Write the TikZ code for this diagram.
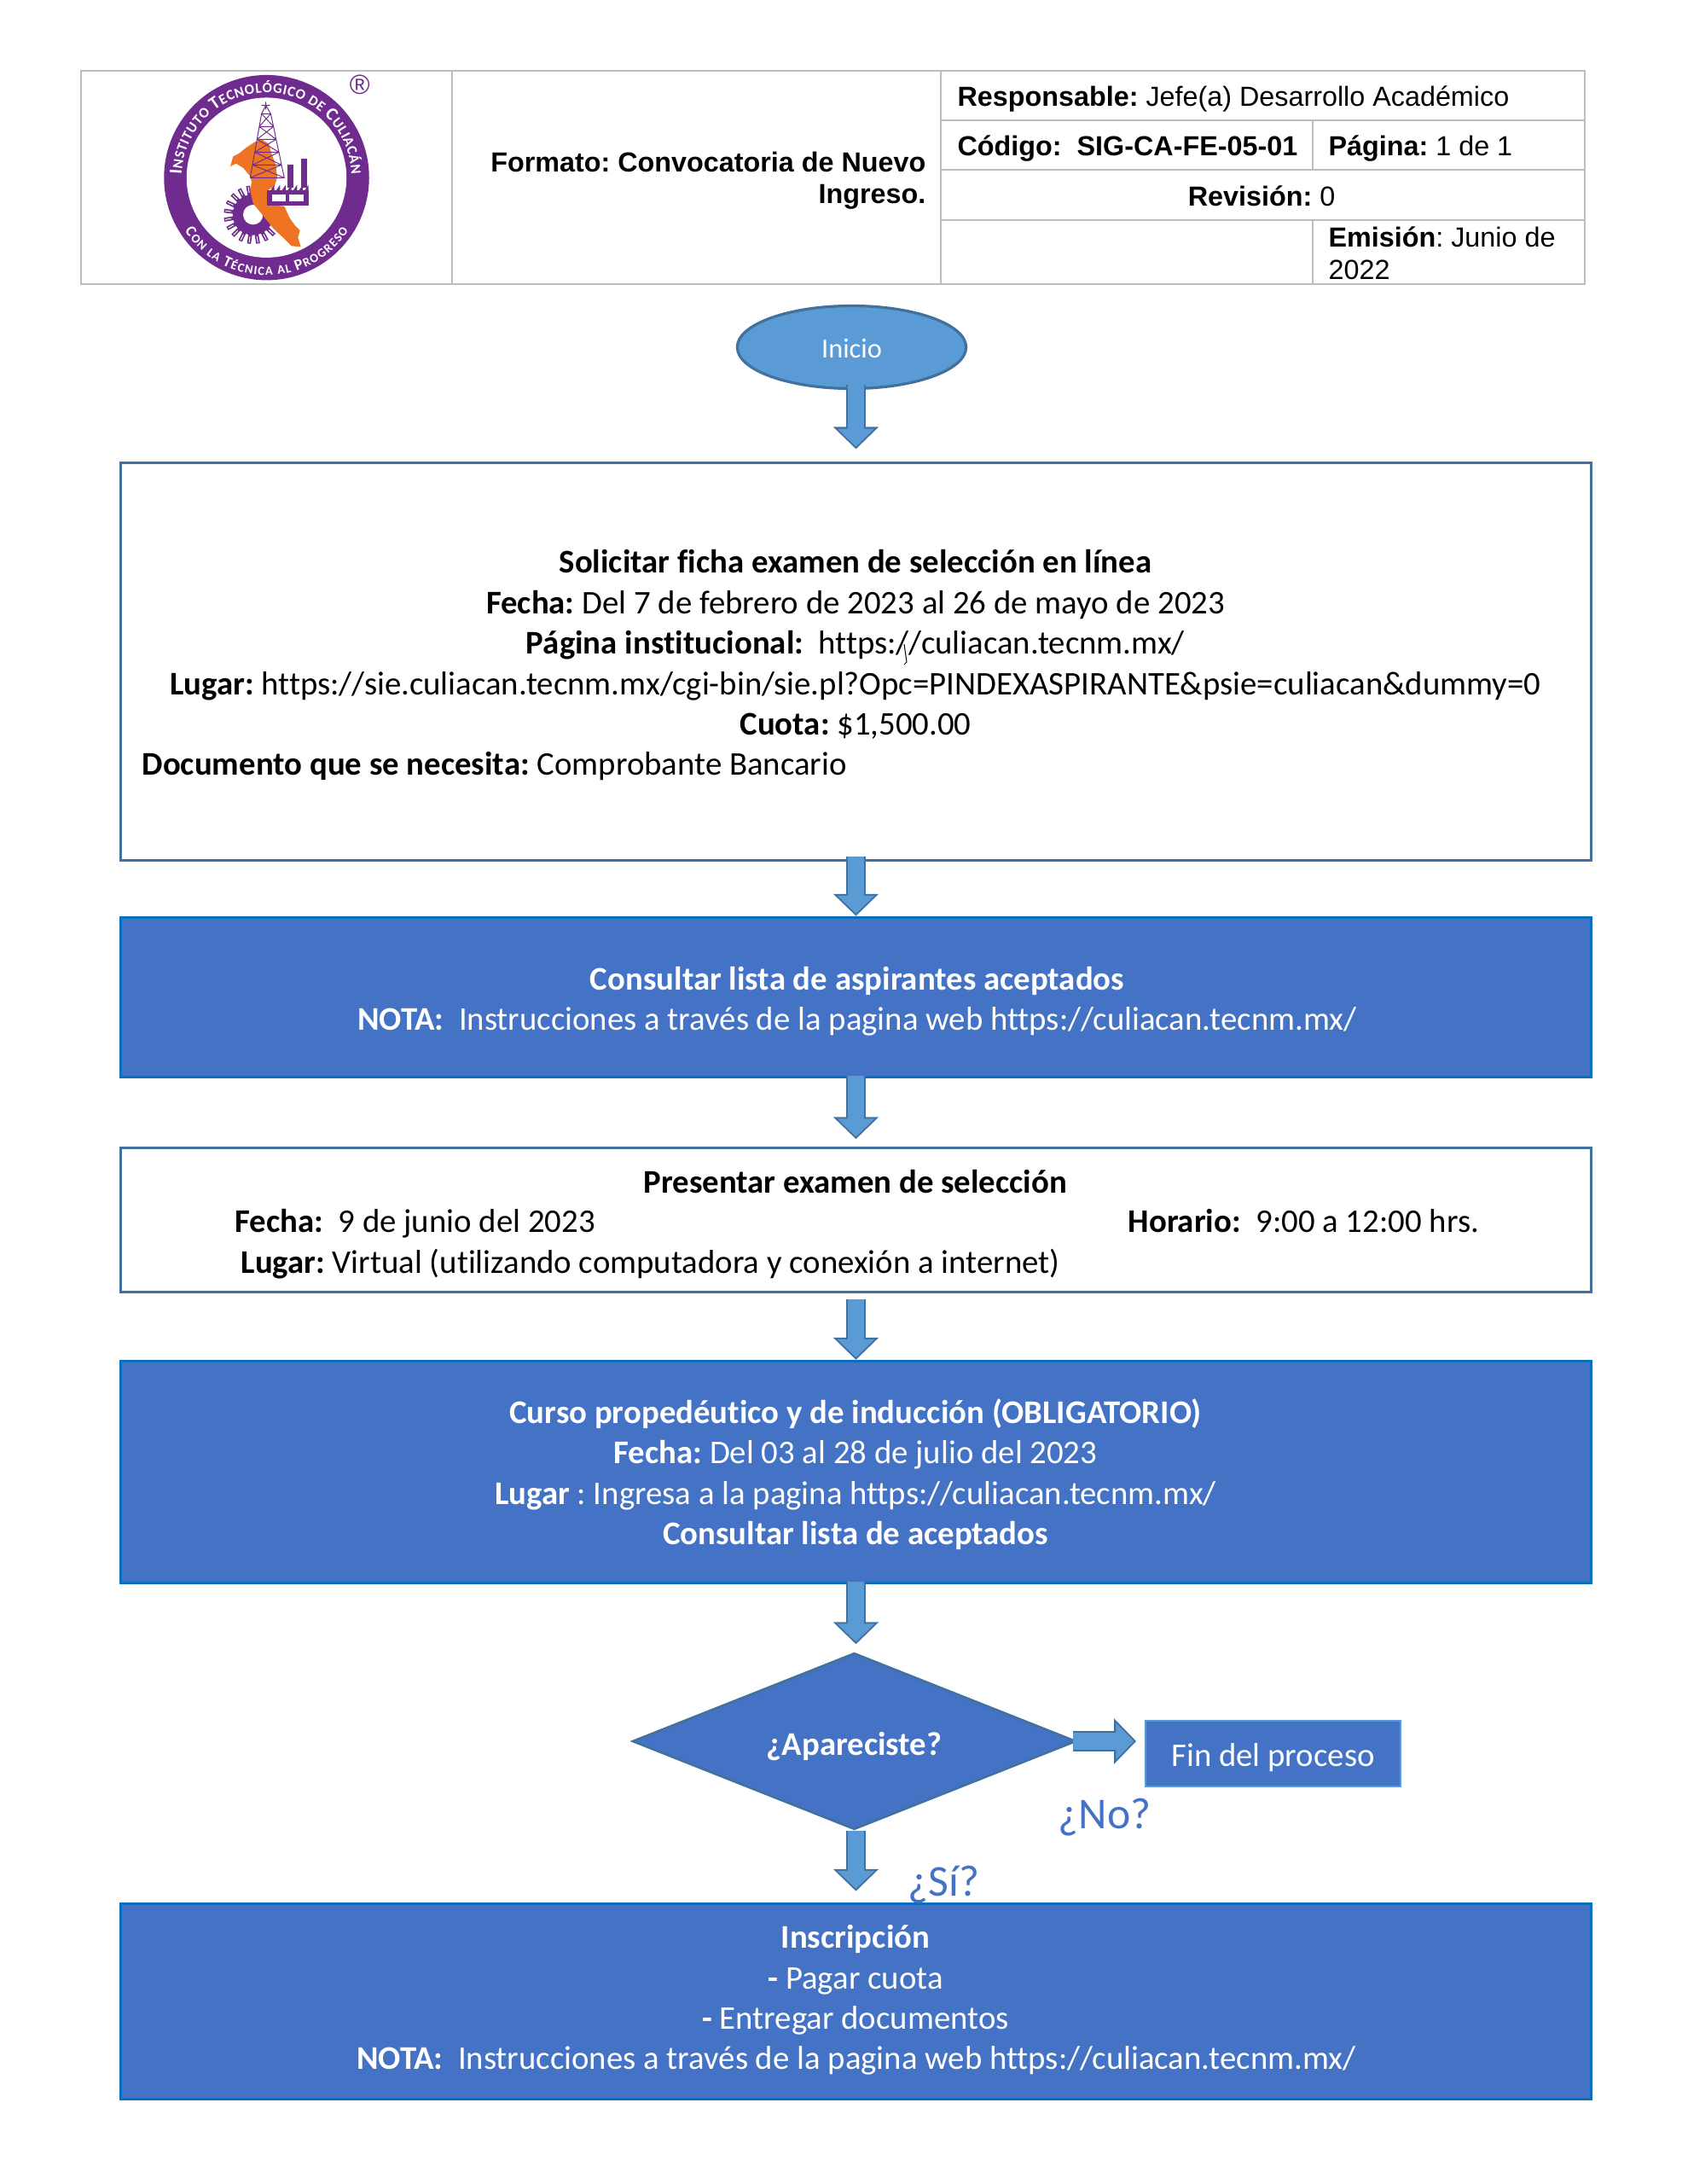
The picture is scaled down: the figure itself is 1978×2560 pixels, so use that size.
\documentclass[tikz,border=0pt]{standalone}
\usepackage{fontspec}
\setmainfont[Ligatures=NoCommon]{Carlito}
\newfontfamily\arial{Liberation Sans}
\usetikzlibrary{arrows.meta,shapes.geometric,decorations.text}
\AtBeginDocument{\frenchspacing}
\definecolor{azulcaja}{HTML}{4472C4}
\definecolor{bordecaja}{HTML}{0B6FBF}
\definecolor{azulflecha}{HTML}{5B9BD5}
\definecolor{bordeflecha}{HTML}{41719C}
\definecolor{bordegris}{HTML}{BDBDBD}
\definecolor{morado}{HTML}{6F2C8E}
\definecolor{naranja}{HTML}{EE7423}
\newcommand{\grande}{\fontsize{6.6}{7}\selectfont\bfseries\color{white}}
\newcommand{\chica}{\fontsize{5.2}{7}\selectfont\bfseries\color{white}}
\newcommand{\grandeb}{\fontsize{5.6}{7}\selectfont\bfseries\color{white}}
\newcommand{\chicab}{\fontsize{4.5}{7}\selectfont\bfseries\color{white}}
\tikzset{
  linea/.style={inner sep=0pt,anchor=base,font=\fontsize{12}{14.6}\selectfont},
  lineaizq/.style={linea,anchor=base west},
  blanca/.style={linea,text=white},
  celda/.style={inner sep=0pt,anchor=base west,font=\arial\fontsize{10}{12}\selectfont},
  cajablanca/.style={draw=bordeflecha,line width=1pt,fill=white,rectangle,inner sep=0pt},
  cajaazul/.style={draw=bordecaja,line width=1pt,fill=azulcaja,rectangle,inner sep=0pt},
  flecha/.style={preaction={draw=bordeflecha,line width=7.4pt,-{Triangle[length=8pt,width=16pt]},shorten >=#1},
    draw=azulflecha,line width=5.9pt,-{Triangle[length=6.5pt,width=13pt]},shorten >=#1+0.85pt},
  tabla/.style={draw=bordegris,line width=0.6pt}
}
\begin{document}
\begin{tikzpicture}[x=0.30938pt,y=-0.30938pt]
    \useasboundingbox (0,0) rectangle (1978,2560);
    \fill[white] (0,0) rectangle (1978,2560);

    % Encabezado
    \draw[tabla] (95,83) rectangle (1858,333);
    \draw[tabla] (530,83) -- (530,333);
    \draw[tabla] (1103,83) -- (1103,333);
    \draw[tabla] (1103,141) -- (1858,141);
    \draw[tabla] (1103,199) -- (1858,199);
    \draw[tabla] (1103,258) -- (1858,258);
    \draw[tabla] (1539,141) -- (1539,199);
    \draw[tabla] (1539,258) -- (1539,333);
    \node[celda,anchor=base east] (formato1) at (1086,202) {\bfseries Formato: Convocatoria de Nuevo};
    \node[celda,anchor=base east] (formato2) at (1086,239) {\bfseries Ingreso.};
    \node[celda] (responsable) at (1122,125) {\textbf{Responsable:} Jefe(a) Desarrollo Académico};
    \node[celda] (codigo) at (1122,183) {\textbf{Código:\ \ SIG-CA-FE-05-01}};
    \node[celda] (pagina) at (1557,183) {\textbf{Página:} 1 de 1};
    \node[celda,anchor=base] (revision) at (1479,242) {\textbf{Revisión:} 0};
    \node[celda] (emision1) at (1557,290) {\textbf{Emisión}: Junio de};
    \node[celda] (emision2) at (1557,328) {2022};

    % Logo
    \begin{scope}[shift={(80,60)},x=0.10313pt,y=-0.10313pt]
      \coordinate (logo) at (697.5,444.5);
      \coordinate (engrane) at (650,575);
      \fill[morado] (logo) circle (37.2pt);
      \fill[white] (logo) circle (29pt);
      \path[decorate,decoration={text along path,text align={fit to path},
        text={|\grande|I|\chica|NSTITUTO |\grande|T|\chica|ECNOLÓGICO DE |\grande|C|\chica|ULIACÁN}}]
        (logo) ++(178:30.8pt) arc[start angle=178,end angle=2,radius=30.8pt];
      \path[decorate,decoration={text along path,text align={fit to path},
        text={|\grandeb|C|\chicab|ON LA |\grandeb|T|\chicab|ÉCNICA AL |\grandeb|P|\chicab|ROGRESO}}]
        (logo) ++(213:35.4pt) arc[start angle=213,end angle=327,radius=35.4pt];
      \node[inner sep=0pt,text=morado,font=\arial\fontsize{10}{12}\selectfont] (registro) at (1025,117) {®};
      % engrane
      \fill[morado] (engrane) circle (7.4pt);
      \foreach \a in {100,118,...,350} {
        \draw[morado,line width=1.4pt] (engrane) ++(\a:7pt) -- ++(\a:3.6pt);
        \draw[white,line width=0.3pt] (engrane) ++(\a:8pt) -- ++(\a:2.2pt);
      }
      \fill[white] (engrane) circle (3.6pt);
      % estado
      \fill[naranja] (570,405) -- (580,370) -- (600,360) -- (625,340) -- (655,320) -- (680,310) -- (705,325)
        -- (715,360) -- (730,400) -- (735,445) -- (725,475) -- (700,490) -- (700,540) -- (760,545) -- (778,585)
        -- (795,610) -- (815,630) -- (808,655) -- (818,688) -- (785,685) -- (755,655) -- (720,622) -- (685,578)
        -- (650,535) -- (640,490) -- (645,460) -- (640,440) -- (615,410) -- (590,395) -- cycle;
      % torre
      \foreach \ya/\xa/\xb/\yb/\xc/\xd in {220/680/712/265/672/722,265/672/722/310/664/731,310/664/731/355/656/741,355/656/741/400/648/750,400/648/750/445/640/760} {
        \draw[morado,line width=0.3pt] (\xa,\ya) -- (\xc,\yb) (\xb,\ya) -- (\xd,\yb) (\xa,\ya) -- (\xd,\yb) (\xb,\ya) -- (\xc,\yb) (\xa,\ya) -- (\xb,\ya);
      }
      \draw[morado,line width=0.3pt] (640,445) -- (760,445) (680,220) -- (695,190) -- (712,220) (680,190) -- (710,190) (695,178) -- (695,205);
      % fabrica
      \fill[morado] (700,488) rectangle (847,542);
      \fill[morado] (772,400) rectangle (792,480);
      \fill[morado] (818,378) rectangle (840,480);
      \foreach \x in {725,745,...,845} {
        \fill[morado] (\x-14,490) -- (\x,470) -- (\x,490) -- cycle;
      }
      \fill[white] (718,505) rectangle (765,528);
      \fill[white] (778,505) rectangle (828,528);
    \end{scope}

    % Cajas del proceso
    \node[ellipse,draw=bordeflecha,line width=1pt,fill=azulflecha,text=white,inner sep=0pt,text height=7.6pt,text depth=0pt,
      minimum width=83pt,minimum height=30pt,font=\fontsize{10}{12}\selectfont] (inicio) at (998.5,407) {Inicio};
    \node[cajablanca,minimum width=533.5pt,minimum height=144pt] (solicitar) at (1003.5,775.5) {};
    \node[cajaazul,minimum width=533.5pt,minimum height=58pt] (consultar) at (1003.5,1169) {};
    \node[cajablanca,minimum width=533.5pt,minimum height=52.5pt] (examen) at (1003.5,1430) {};
    \node[cajaazul,minimum width=533.5pt,minimum height=80.5pt] (curso) at (1003.5,1725.5) {};
    \node[diamond,draw=bordeflecha,line width=0.8pt,fill=azulcaja,text=white,inner sep=0pt,aspect=2.51,text height=10pt,text depth=0pt,
      minimum width=161pt,minimum height=64pt,font=\fontsize{12}{14.6}\selectfont\bfseries] (aparece) at (1001.5,2041) {¿Apareciste?};
    \node[rectangle,draw=azulflecha,line width=0.8pt,fill=azulcaja,text=white,inner sep=0pt,text height=9pt,text depth=0pt,
      minimum width=92.5pt,minimum height=23.8pt,font=\fontsize{12}{14.6}\selectfont] (fin) at (1492.5,2055.5) {Fin del proceso};
    \node[cajaazul,minimum width=533.5pt,minimum height=71pt] (inscripcion) at (1003.5,2346) {};

    % Textos
    \node[linea] (sol1) at (1003,671) {\bfseries Solicitar ficha examen de selección en línea};
    \node[linea] (sol2) at (1003,719) {\textbf{Fecha:} Del 7 de febrero de 2023 al 26 de mayo de 2023};
    \node[linea] (sol3) at (1003,766) {\textbf{Página institucional:}\ \ https://culiacan.tecnm.mx/};
    \node[linea] (sol4) at (1003,814) {\textbf{Lugar:} https://sie.culiacan.tecnm.mx/cgi-bin/sie.pl?Opc=PINDEXASPIRANTE\&psie=culiacan\&dummy=0};
    \node[linea] (sol5) at (1003,861) {\textbf{Cuota:} \$1,500.00};
    \node[lineaizq] (sol6) at (166,908) {\textbf{Documento que se necesita:} Comprobante Bancario};
    \draw[line width=0.3pt] (1060,755) -- (1063,776) -- (1060,779);
    \node[blanca] (con1) at (1005,1160) {\bfseries Consultar lista de aspirantes aceptados};
    \node[blanca] (con2) at (1005,1207) {\textbf{NOTA:}\ \ Instrucciones a través de la pagina web https://culiacan.tecnm.mx/};
    \node[linea] (exa1) at (1003,1398) {\bfseries Presentar examen de selección};
    \node[lineaizq] (exa2) at (275,1444) {\textbf{Fecha:}\ \ 9 de junio del 2023};
    \node[lineaizq] (exa3) at (1322,1444) {\textbf{Horario:}\ \ 9:00 a 12:00 hrs.};
    \node[lineaizq] (exa4) at (282,1492) {\textbf{Lugar:} Virtual (utilizando computadora y conexión a internet)};
    \node[blanca] (cur1) at (1003,1668) {\bfseries Curso propedéutico y de inducción (OBLIGATORIO)};
    \node[blanca] (cur2) at (1003,1715) {\textbf{Fecha:} Del 03 al 28 de julio del 2023};
    \node[blanca] (cur3) at (1003,1763) {\textbf{Lugar} : Ingresa a la pagina https://culiacan.tecnm.mx/};
    \node[blanca] (cur4) at (1003,1810) {\bfseries Consultar lista de aceptados};
    \node[blanca] (ins1) at (1003,2283) {\bfseries Inscripción};
    \node[blanca] (ins2) at (1003,2331) {\textbf{-} Pagar cuota};
    \node[blanca] (ins3) at (1003,2378) {\textbf{-} Entregar documentos};
    \node[blanca] (ins4) at (1004,2425) {\textbf{NOTA:}\ \ Instrucciones a través de la pagina web https://culiacan.tecnm.mx/};
    \node[linea,text=azulcaja,font=\fontsize{16}{19}\selectfont,anchor=base west] (no) at (1240,2143) {¿No?};
    \node[linea,text=azulcaja,font=\fontsize{16}{19}\selectfont,anchor=base west] (si) at (1064,2222) {¿Sí?};

    % Flechas
    \draw[flecha=4.6pt,shorten <=-1.9pt] (solicitar.north |- inicio.south) -- (solicitar.north);
    \draw[flecha=0pt,shorten <=-1.9pt] (solicitar.south) -- (consultar.north);
    \draw[flecha=2.6pt,shorten <=-1pt] (consultar.south) -- (examen.north);
    \draw[flecha=0pt,shorten <=2pt] (examen.south) -- (curso.north);
    \draw[flecha=2.8pt,shorten <=-1pt] (curso.south) -- (curso.south |- aparece.north);
    \draw[flecha=3pt,shorten <=-1.5pt] (aparece.east) -- (fin.west |- aparece.east);
    \draw[flecha=4pt] (inscripcion.north |- aparece.south) -- (inscripcion.north);
\end{tikzpicture}
\end{document}
